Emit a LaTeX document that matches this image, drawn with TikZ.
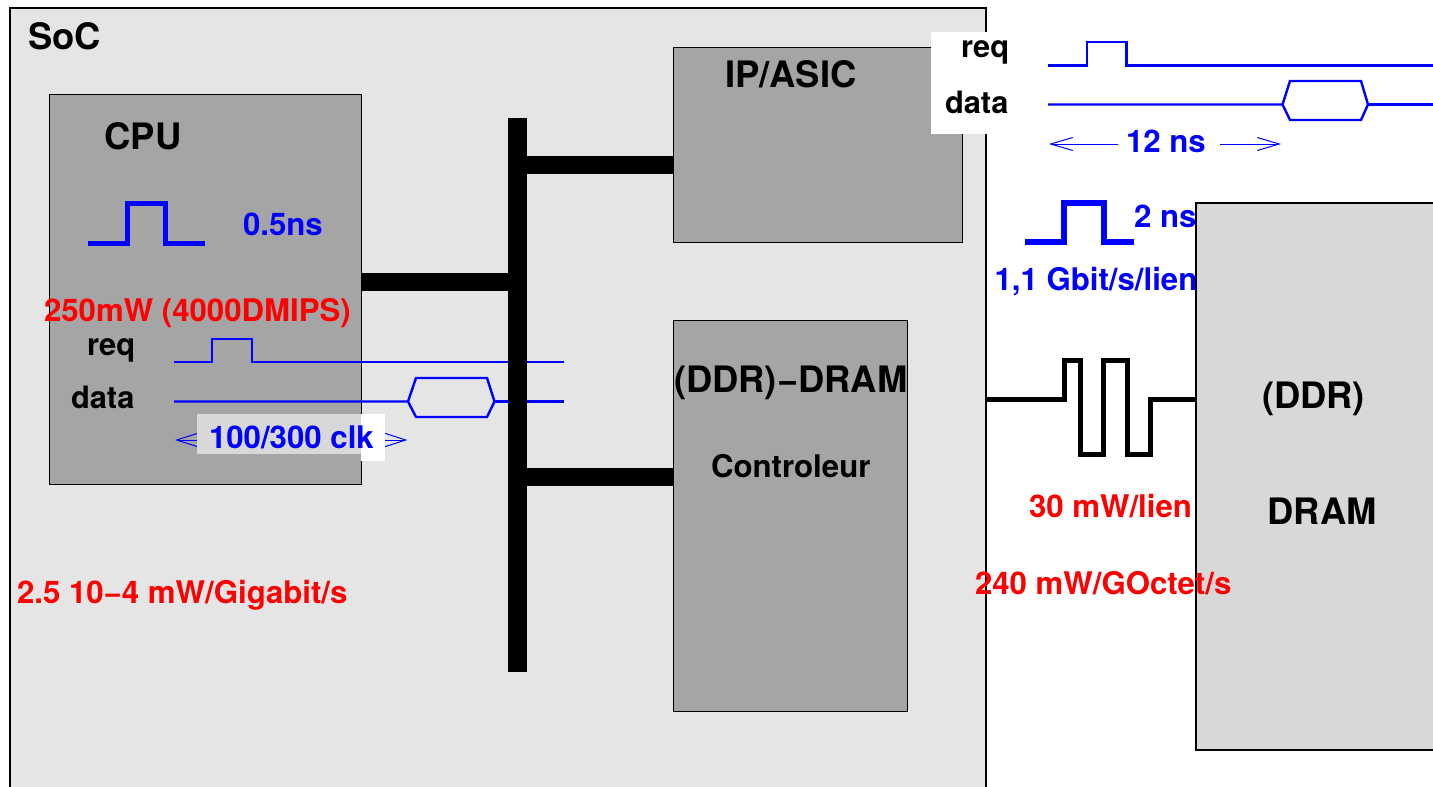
\documentclass[tikz,border=0pt]{standalone}
\usepackage{fontspec}
\setmainfont{TeX Gyre Heros}[BoldFont=* Bold]
\usetikzlibrary{arrows.meta}
\definecolor{socfill}{HTML}{E5E5E5}
\definecolor{blockfill}{HTML}{A5A5A5}
\definecolor{dramfill}{HTML}{D8D8D8}
\tikzset{
  x=1pt,y=-1pt,
  block/.style={draw=black,fill=blockfill,line width=1pt,anchor=north west,inner sep=0pt,outer sep=0pt},
  heavybox/.style={draw=black,line width=2.5pt,anchor=north west,inner sep=0pt,outer sep=0pt},
  busbar/.style={fill=black,anchor=north west,inner sep=0pt,outer sep=0pt},
  stub/.style={line width=18pt,black},
  wave/.style={draw=blue,line width=2.4pt,miter limit=10},
  pulse/.style={draw=blue,line width=5pt},
  span/.style={draw=blue,line width=1pt,{Straight Barb[length=22pt,width=14pt,line width=1pt]}-{Straight Barb[length=22pt,width=14pt,line width=1pt]}},
  spanleft/.style={draw=blue,line width=1pt,{Straight Barb[length=22pt,width=13pt,line width=1pt]}-},
  spanright/.style={draw=blue,line width=1pt,-{Straight Barb[length=22pt,width=13pt,line width=1pt]}},
  txt/.style={inner sep=0pt,outer sep=0pt,anchor=base west,font=\bfseries\fontsize{#1}{#1}\selectfont},
  txt/.default=30.8,
  big/.style={txt=36.4},
  tblue/.style={txt=31.2,text=blue},
  tred/.style={txt=31.2,text=red},
}
\begin{document}
\begin{tikzpicture}
\useasboundingbox (0,0) rectangle (1433,787);
\clip (0,0) rectangle (1433,787);
% boxes
\node[heavybox,fill=socfill,minimum width=976pt,minimum height=800pt] (soc) at (10,8) {};
\node[block,minimum width=312pt,minimum height=390.5pt] (cpu) at (49,94) {};
\node[block,minimum width=289pt,minimum height=195.5pt] (ip) at (673,47) {};
\node[block,minimum width=234.5pt,minimum height=390.5pt] (ctrl) at (673,320.5) {};
\node[heavybox,fill=dramfill,minimum width=260pt,minimum height=547pt] (dram) at (1196,203) {};
% white mask behind the external req/data labels
\fill[white] (931,32) rectangle (990,134);
% internal timing
\draw[wave] (174,362) -- (212,362) -- (212,339) -- (252,339) -- (252,362) -- (564,362);
\draw[wave] (174,401.5) -- (408,401.5) -- (416,378) -- (487,378) -- (494.5,401.5) -- (487,417) -- (416,417) -- (408,401.5);
\draw[wave] (494.5,401.5) -- (564,401.5);
\draw[span] (175,440) -- (407.5,440);
\fill[dramfill] (197,414) rectangle (361,454);
\fill[white] (361,414) rectangle (385,461);
% bus
\node[busbar,minimum width=18.5pt,minimum height=554pt] (bus) at (508,118) {};
\draw[stub] (cpu.east |- 0,282) -- (bus.west |- 0,282);
\draw[stub] (bus.east |- 0,164.5) -- (ip.west |- 0,164.5);
\draw[stub] (bus.east |- 0,477) -- (ctrl.west |- 0,477);
% CPU pulse
\draw[pulse] (88,243) -- (127,243) -- (127,203) -- (165,203) -- (165,243) -- (205,243);
% external timing
\draw[wave] (1048,65.5) -- (1087,65.5) -- (1087,42) -- (1126.5,42) -- (1126.5,65.5) -- (1433,65.5);
\draw[wave] (1048,104.5) -- (1282.5,104.5) -- (1290,81) -- (1361,81) -- (1368,104.5) -- (1361,120) -- (1290,120) -- (1282.5,104.5);
\draw[wave] (1368,104.5) -- (1433,104.5);
\draw[spanleft] (1049,144) -- (1118,144);
\draw[spanright] (1220,144) -- (1281,144);
\draw[pulse,line width=5.5pt] (1025,242) -- (1064,242) -- (1064,203) -- (1104,203) -- (1104,242) -- (1134,242);
% DRAM link
\draw[black,line width=5pt] (soc.east |- 0,399) -- (1064,399) -- (1064,360) -- (1080,360) -- (1080,454) -- (1103,454) -- (1103,360) -- (1127,360) -- (1127,454) -- (1150,454) -- (1150,399) -- (dram.west |- 0,399);
% labels
\node[big] (lsoc) at (28,49) {SoC};
\node[big] (lcpu) at (104.5,149) {CPU};
\node[big] (lip) at (725,87) {IP/ASIC};
\node[big] (lctrl) at (674,392) {(DDR)−DRAM};
\node[txt=31.2] (lcontrol) at (711,477) {Controleur};
\node[big] (lddr) at (1262,408) {(DDR)};
\node[big] (ldram) at (1267.5,524) {DRAM};
\node[txt] (lreqa) at (87,355.5) {req};
\node[txt] (ldataa) at (71,408) {data};
\node[txt] (lreqb) at (961,57) {req};
\node[txt] (ldatab) at (945,113) {data};
\node[tblue] (lhalf) at (243,235) {0.5ns};
\node[tblue] (lclk) at (209,448) {100/300 clk};
\node[tblue] (ltwelve) at (1126,152) {12 ns};
\node[tblue] (ltwo) at (1134,227) {2 ns};
\node[tblue] (lgbit) at (994.5,290) {1,1 Gbit/s/lien};
\node[tred] (lpower) at (44,321) {250mW (4000DMIPS)};
\node[tred] (llien) at (1029,517) {30 mW/lien};
\node[tred] (lgoctet) at (975,594) {240 mW/GOctet/s};
\node[tred] (lgiga) at (17,603) {2.5 10−4 mW/Gigabit/s};
\end{tikzpicture}
\end{document}
